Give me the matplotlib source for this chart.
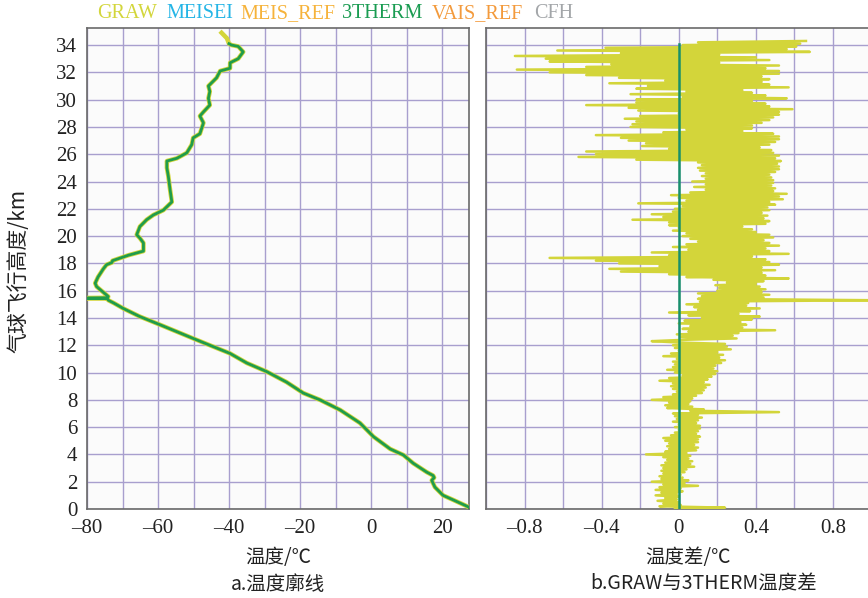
import matplotlib
matplotlib.use("Agg")
import matplotlib.pyplot as plt
import numpy as np

# ---------------- data ----------------
legend_names = ["GRAW", "MEISEI", "MEIS_REF", "3THERM", "VAIS_REF", "CFH"]
legend_colors = ["#d3d63c", "#25b5e6", "#f6b33b", "#1a9c52", "#f39a3c", "#a3a6a9"]

# 3THERM temperature profile (altitude km, temperature degC)
therm_alt = [0.0, 0.17, 0.66, 1.0, 1.6, 2.1, 2.3, 2.45, 2.7, 3.35, 3.96, 4.4, 5.3, 6.3,
             7.26, 8.0, 8.5, 9.3, 10.07, 10.7, 11.4, 12.0, 12.5, 13.5, 14.1, 14.7, 15.1,
             15.3, 15.42, 15.45, 15.48, 15.57, 16.3, 16.55, 17.0, 17.6, 17.9, 18.06, 18.2,
             18.6, 18.9, 19.5, 19.85, 20.1, 20.7, 21.2, 21.55, 21.9, 22.5, 23.4, 24.4,
             25.0, 25.5, 25.7, 26.1, 26.7, 27.2, 27.5, 28.3, 28.8, 29.1, 29.6, 30.1, 30.6,
             31.0, 31.6, 32.1, 32.3, 32.7, 33.0, 33.5, 33.9, 34.0, 34.1]
therm_temp = [28.0, 27.3, 23.2, 20.3, 18.0, 17.1, 17.8, 17.5, 15.7, 11.9, 9.1, 5.4, 0.7, -3.1,
              -8.7, -14.4, -19.1, -23.8, -29.4, -35.0, -39.7, -45.4, -50.1, -59.4, -65.1, -69.8, -72.5,
              -74.0, -74.3, -88.0, -74.5, -74.0, -77.3, -77.7, -76.9, -75.4, -74.5, -73.0, -72.8,
              -68.3, -64.1, -64.1, -65.1, -66.0, -65.1, -63.2, -61.3, -58.5, -56.1, -56.6, -57.1,
              -57.5, -57.5, -54.7, -51.9, -50.5, -50.1, -48.2, -47.2, -48.2, -47.2, -45.4, -45.8, -45.4,
              -45.8, -43.5, -42.5, -39.7, -39.7, -37.4, -36.0, -37.4, -39.3, -40.0]

# GRAW profile (same track, continues higher)
graw_alt = therm_alt + [34.5, 34.9]
graw_temp = therm_temp + [-40.6, -42.1]

# GRAW - 3THERM temperature difference, every 0.1 km from 0.0 km
diff_values = [
    -0.02, 0.24, -0.10, 0.01, -0.08, 0.00, -0.11, -0.01, -0.07, 0.00,
    -0.12, -0.01, -0.09, 0.02, -0.12, 0.01, -0.10, 0.10, -0.08, 0.03,
    -0.14, 0.05, -0.09, 0.02, -0.10, 0.01, -0.08, 0.03, -0.09, 0.04,
    -0.08, 0.08, -0.09, 0.06, -0.07, 0.07, -0.06, 0.05, -0.08, 0.06,
    -0.17, 0.04, -0.07, 0.09, -0.05, 0.10, -0.06, 0.08, -0.05, 0.10,
    -0.07, 0.10, -0.08, 0.11, -0.04, 0.09, -0.02, 0.10, 0.00, 0.11,
    -0.02, 0.11, 0.00, 0.09, -0.03, 0.10, -0.01, 0.12, -0.02, 0.10,
    -0.03, 0.52, 0.06, 0.13, -0.06, 0.07, -0.07, 0.05, -0.05, 0.06,
    -0.14, 0.07, -0.08, 0.09, -0.03, 0.12, -0.01, 0.13, -0.03, 0.14,
    -0.04, 0.16, -0.03, 0.13, -0.10, 0.15, -0.05, 0.17, 0.02, 0.19,
    -0.02, 0.20, -0.06, 0.18, -0.03, 0.19, -0.02, 0.22, -0.03, 0.24,
    -0.01, 0.21, -0.08, 0.23, -0.04, 0.20, 0.00, 0.27, -0.02, 0.25,
    -0.03, 0.24, 0.00, -0.14, 0.03, 0.30, 0.01, 0.28, -0.01, 0.31,
    0.05, 0.50, 0.02, 0.33, 0.06, 0.35, 0.00, 0.32, 0.03, 0.38,
    0.12, 0.42, 0.05, 0.31, -0.05, 0.37, 0.10, 0.42, 0.08, 0.35,
    0.04, 0.36, 0.11, 1.02, 0.10, 0.44, 0.12, 0.47, 0.10, 0.43,
    0.20, 0.45, 0.21, 0.42, 0.19, 0.40, 0.25, 0.44, 0.18, 0.57,
    0.04, 0.45, -0.05, 0.43, -0.30, 0.50, -0.36, 0.43, -0.10, 0.52,
    -0.31, 0.47, -0.43, 0.45, -0.67, 0.38, -0.05, 0.57, -0.14, 0.47,
    0.05, 0.45, -0.03, 0.52, 0.04, 0.47, 0.10, 0.44, 0.06, 0.49,
    0.02, 0.47, 0.04, 0.40, -0.03, 0.38, 0.00, 0.33, -0.05, 0.45,
    -0.05, 0.47, -0.24, 0.44, -0.08, 0.46, -0.14, 0.43, -0.03, 0.47,
    -0.02, 0.46, 0.02, 0.50, -0.21, 0.47, 0.04, 0.54, 0.00, 0.52,
    -0.04, 0.56, 0.06, 0.49, 0.14, 0.50, 0.08, 0.48, 0.14, 0.49,
    0.07, 0.49, 0.14, 0.48, 0.12, 0.47, 0.14, 0.50, 0.11, 0.52,
    0.10, 0.52, 0.12, 0.51, 0.10, 0.53, -0.22, 0.50, -0.52, 0.52,
    -0.43, 0.49, -0.48, 0.48, -0.05, 0.42, -0.19, 0.47, -0.17, 0.50,
    -0.26, 0.52, -0.30, 0.52, -0.43, 0.49, -0.08, 0.33, 0.04, 0.38,
    -0.25, 0.38, -0.24, 0.43, -0.22, 0.47, -0.28, 0.49, -0.20, 0.52,
    0.00, 0.52, -0.21, 0.59, -0.26, 0.47, -0.48, 0.45, -0.22, 0.38,
    -0.22, 0.56, 0.02, 0.45, -0.25, 0.38, 0.04, 0.33, -0.22, 0.57,
    -0.16, 0.47, -0.36, 0.43, -0.07, 0.47, -0.31, 0.43, -0.48, 0.52,
    -0.67, 0.52, -0.84, 0.45, -0.48, 0.52, -0.35, 0.21, -0.67, 0.47,
    -0.69, 0.40, -0.85, 0.21, -0.30, 0.68, -0.63, 0.56, -0.38, 0.61,
    0.02, 0.63, 0.10, 0.66,
]
diff_alt_start = 0.0
diff_alt_step = 0.1
zero_line_alt = [0.0, 34.1]
zero_line_val = [0.0, 0.0]

left_xticks = [-80, -70, -60, -50, -40, -30, -20, -10, 0, 10, 20]
right_xticks = [-1.0, -0.8, -0.6, -0.4, -0.2, 0.0, 0.2, 0.4, 0.6, 0.8]
yticks = list(range(0, 35, 2))

# ---------------- style ----------------
GRAW_C = "#d3d53a"
THERM_C = "#1f9c4c"
ZERO_C = "#18906c"
GRID_C = "#a89fce"
SPINE_C = "#6a6a6a"
serif = ["Liberation Serif", "DejaVu Serif"]
cjk = ["Noto Sans CJK SC", "DejaVu Sans"]

def fmt_num(v, nd):
    s = f"{abs(v):.{nd}f}" if nd else f"{abs(int(round(v)))}"
    if nd and abs(v) < 1e-9:
        s = "0"
    return ("\u2013" if v < -1e-9 else "") + s

fig = plt.figure(figsize=(8.68, 5.98), dpi=100)
W, H = 868.0, 598.0

axL = fig.add_axes([87 / W, (H - 509) / H, (469 - 87) / W, (509 - 28) / H])
axR = fig.add_axes([486 / W, (H - 509) / H, (871.5 - 486) / W, (509 - 28) / H])

for ax in (axL, axR):
    ax.set_facecolor("#fbfbfb")
    ax.set_ylim(0, 35.25)
    ax.set_yticks(yticks)
    ax.grid(True, color=GRID_C, lw=1.0, zorder=0)
    ax.set_axisbelow(True)
    ax.tick_params(length=0, labelsize=15, colors="#222222")
    for sp in ax.spines.values():
        sp.set_color(SPINE_C)
        sp.set_linewidth(1.2)
axL.tick_params(axis="y", pad=7)
axL.tick_params(axis="x", pad=7)
axR.tick_params(axis="x", pad=7)

# left panel
axL.plot(graw_temp, graw_alt, color=GRAW_C, lw=3.2, solid_joinstyle="round", zorder=3)
axL.plot(therm_temp, therm_alt, color=THERM_C, lw=2.0, solid_joinstyle="round", zorder=4)
axL.set_xlim(-80, 27.6)
axL.set_xticks(left_xticks)
axL.set_xticklabels([fmt_num(v, 0) if v % 20 == 0 else "" for v in left_xticks])
axL.set_yticklabels([str(v) for v in yticks])

# right panel
diff_alt = [diff_alt_start + i * diff_alt_step for i in range(len(diff_values))]
axR.plot(diff_values, diff_alt, color=GRAW_C, lw=1.8, zorder=3)
axR.plot(zero_line_val, zero_line_alt, color=ZERO_C, lw=1.8, zorder=4)
axR.set_xlim(-1.0, 1.0)
axR.set_xticks(right_xticks)
lab = []
for v in right_xticks:
    k = int(round(v * 10))
    lab.append(fmt_num(v, 1) if k % 4 == 0 and abs(v) < 0.95 else "")
axR.set_xticklabels(lab)
axR.set_yticklabels([])
axR.tick_params(axis="y", length=0)

for ax in (axL, axR):
    for t in ax.get_xticklabels() + ax.get_yticklabels():
        t.set_family(serif)

# axis labels and captions
fig.text(18 / W, 1 - 271 / H, "气球飞行高度/km", rotation=90, ha="center", va="center",
         fontsize=15, family=cjk, color="#222222")
fig.text(278 / W, 1 - 557 / H, "温度/℃", ha="center", va="center", fontsize=14,
         family=cjk, color="#222222")
fig.text(278 / W, 1 - 584 / H, "a.温度廓线", ha="center", va="center", fontsize=14,
         family=cjk, color="#222222")
fig.text(688 / W, 1 - 557 / H, "温度差/℃", ha="center", va="center", fontsize=14,
         family=cjk, color="#222222")
fig.text(704 / W, 1 - 584 / H, "b.GRAW与3THERM温度差", ha="center", va="center", fontsize=14,
         family=cjk, color="#222222")

# top legend (coloured names)
legend_x = [97, 166, 240, 342, 432, 534]
for name, col, x in zip(legend_names, legend_colors, legend_x):
    fig.text(x / W, 1 - 14 / H, name, ha="left", va="center", fontsize=14.5,
             family=serif, color=col)

fig.savefig("out.png", dpi=100)
